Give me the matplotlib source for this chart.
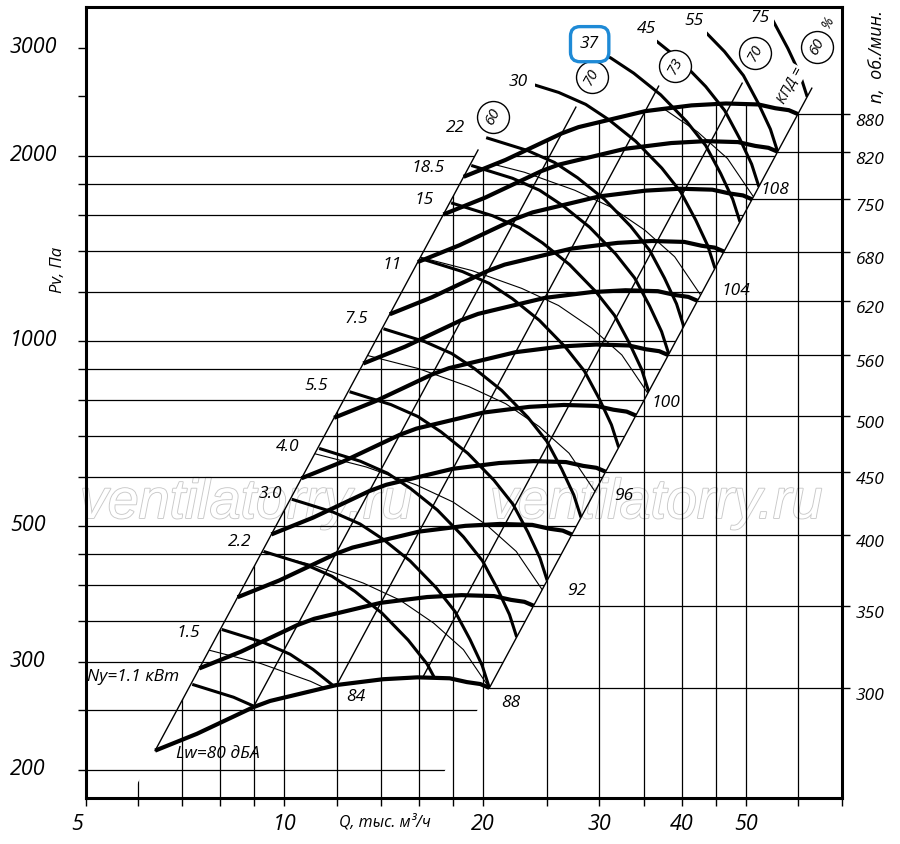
import numpy as np
import matplotlib
matplotlib.use('Agg')
import matplotlib.pyplot as plt
import matplotlib.patheffects as pe
from matplotlib.patches import Polygon
from matplotlib.ticker import FixedLocator, NullLocator
from matplotlib.transforms import Bbox, TransformedBbox, blended_transform_factory

plt.rcParams['font.family'] = ['Open Sans', 'DejaVu Sans']
plt.rcParams['font.style'] = 'italic'

# Q in thousand m3/h, Pv in Pa
# fan curve at n = 300 rpm, other speeds follow the fan laws
q_300 = [6.37, 7.37, 8.97, 9.51, 12.0, 14.1, 15.9, 17.8, 18.9, 19.8, 20.44]
p_300 = [215, 229, 253, 259, 275, 281, 283, 282, 278, 276, 272]
rpm = [300, 350, 400, 450, 500, 560, 620, 680, 750, 820, 880]

# motor power line that meets the right 60 % line at 300 rpm (3.0 kW)
q_pow = [10.26, 11.85, 13.02, 14.11, 15.50, 16.98, 18.14, 19.11, 19.93, 20.44]
p_pow = [552, 526, 503, 475, 438, 396, 362, 326, 296, 272]
power_labels = ['Ny=1.1 кВт', '1.5', '2.2', '3.0', '4.0', '5.5', '7.5', '11', '15',
                '18.5', '22', '30', '37', '45', '55', '75']
power_rpm_end = [212, 235, 272, 300, 330, 367, 413, 471, 523, 561, 591, 659, 719, 768, 820, 909]
power_q_from = [None] * 11 + [24.0, 30.9, 36.7, 43.7, 55.2]
power_label_pos = [(5.90, 283), (7.14, 334), (8.57, 470), (9.51, 563), (10.13, 671),
                   (11.17, 844), (12.84, 1085), (14.56, 1328), (16.27, 1695), (16.51, 1911),
                   (18.14, 2221), (22.6, 2638), (29.0, 3042), (35.3, 3219), (41.8, 3317),
                   (52.6, 3355)]

# noise line Lw = 88 dBA
q_lw = [9.24, 11.06, 13.17, 14.97, 16.82, 18.67, 20.44]
p_lw = [453, 431, 403, 378, 347, 314, 272]
lw_levels = [84, 88, 92, 96, 100, 104, 108]
lw_labels = ['Lw=80 дБА', '84', '88', '92', '96', '100', '104', '108']
lw_label_pos = [(7.93, 212), (12.84, 263), (22.0, 257), (27.7, 391), (32.7, 559),
                (37.9, 792), (48.3, 1205), (55.4, 1760)]

# efficiency lines (P ~ Q^2)
eta = ['60', '70', '73', '70', '60']
eta_q = [6.37, 8.97, 12.0, 16.2, 20.44]
eta_p = [215, 253, 275, 283, 272]
eta_p_top = [2045, 2402, 2599, 2628, 2579]
eta_label_pos = [(20.7, 2314), (29.2, 2689), (39.1, 2802), (51.7, 2938), (64.1, 3012)]

q_ticks = [5, 6, 7, 8, 9, 10, 12, 14, 16, 18, 20, 25, 30, 35, 40, 45, 50, 60, 70]
q_labeled = [10, 20, 30, 40, 50]
p_ticks = [200, 250, 300, 350, 400, 450, 500, 600, 700, 800, 900, 1000,
           1200, 1400, 1600, 1800, 2000, 2500, 3000]
p_labeled = [200, 300, 500, 1000, 2000, 3000]
q_grid = q_ticks[1:-1]
p_grid = p_ticks[:-2]

ylim = (180.2, 3493)
xlim = (5, 70)

fig = plt.figure(figsize=(9, 8.44), dpi=100)
ax = fig.add_axes([85.7 / 900, 1 - 797.7 / 844, 756.6 / 900, 790.4 / 844])
ax.set_xscale('log')
ax.set_yscale('log')
ax.set_xlim(*xlim)
ax.set_ylim(*ylim)
for s in ax.spines.values():
    s.set_linewidth(2.2)


def affine(q, p, r):
    return np.asarray(q, float) * r, np.asarray(p, float) * r ** 2


def poly(q, p):
    return Polygon(np.column_stack([q, p]), closed=True, transform=ax.transData)


kL = p_300[0] / q_300[0] ** 2
kR = p_300[-1] / q_300[-1] ** 2
q0, p0 = affine(q_300, p_300, 1)
qt, pt = affine(q_300, p_300, rpm[-1] / 300)
big = 1e5

region = poly(np.r_[q0, qt[::-1]], np.r_[p0, pt[::-1]])
above_low = poly(np.r_[q0, np.sqrt(big / kR), np.sqrt(big / kL)], np.r_[p0, big, big])
horiz_area = poly(np.r_[1, 1, np.sqrt(big / kL), qt, np.sqrt(100 / kR)],
                  np.r_[100, big, big, pt, 100])
vert_area = poly(np.r_[1, 1, qt, 1e3, 1e3], np.r_[1, kL, pt, pt[-1], 1])

# grid
for p in p_grid:
    ln, = ax.plot(xlim, [p, p], color='k', lw=0.9, zorder=1)
    ln.set_clip_path(horiz_area)
for q in q_grid:
    ln, = ax.plot([q, q], ylim, color='k', lw=0.9, zorder=1)
    ln.set_clip_path(vert_area)

# speed curves and level lines to the right axis
for n in rpm:
    q, p = affine(q_300, p_300, n / 300)
    ax.plot(q, p, color='k', lw=3.0, solid_capstyle='butt', zorder=4)
    ax.plot([q[-1], xlim[1]], [p[-1], p[-1]], color='k', lw=0.9, zorder=1)

# efficiency lines
for q, p, top in zip(eta_q, eta_p, eta_p_top):
    k = p / q ** 2
    ax.plot([q, np.sqrt(top / k)], [p, top], color='k', lw=1.0, zorder=2)

# noise lines
for lev in lw_levels:
    q, p = affine(q_lw, p_lw, 10 ** ((lev - 88) / 50))
    ln, = ax.plot(q, p, color='k', lw=0.8, zorder=2)
    ln.set_clip_path(region)

# power lines
for n_end, q_from in zip(power_rpm_end, power_q_from):
    q, p = affine(q_pow, p_pow, n_end / 300)
    ln, = ax.plot(q, p, color='k', lw=2.2, solid_capstyle='butt', zorder=3)
    ln.set_clip_path(above_low)
    if q_from:
        ln.set_clip_box(TransformedBbox(Bbox([[q_from, ylim[0]], [xlim[1], ylim[1]]]),
                                        ax.transData))

# angle of the P ~ Q^2 lines on screen
a = ax.transData.transform([(10, 100), (20, 400)])
ang = np.degrees(np.arctan2(a[1, 1] - a[0, 1], a[1, 0] - a[0, 0]))

fs = 12.5
for lab, (x, y) in zip(power_labels, power_label_pos):
    kw = {}
    if lab == '37':
        kw['bbox'] = dict(boxstyle='round,pad=0.55', fc='white', ec='#1e8ad6', lw=2.4)
    ax.text(x, y, lab, fontsize=fs, ha='center', va='center', zorder=7, **kw)
for lab, (x, y) in zip(lw_labels, lw_label_pos):
    ax.text(x, y, lab, fontsize=fs, ha='center', va='center', zorder=7)

for lab, (x, y) in zip(eta, eta_label_pos):
    ax.plot(x, y, 'o', ms=23, mfc='white', mec='k', mew=1.0, zorder=6, clip_on=False)
    ax.text(x, y, lab, fontsize=11, rotation=ang, rotation_mode='anchor',
            ha='center', va='center', zorder=7)
ax.text(58.4, 2609, 'КПД =', fontsize=10.5, rotation=ang, rotation_mode='anchor',
        ha='center', va='center', zorder=7,
        bbox=dict(fc='white', ec='none', pad=0.6))
ax.text(66.6, 3304, '%', fontsize=10, rotation=ang, rotation_mode='anchor',
        ha='center', va='center', zorder=7, clip_on=False)

# watermark
for x0 in (80, 490):
    ax.text(x0 / 900, 1 - 518 / 844, 'ventilatorry.ru', transform=fig.transFigure,
            fontsize=40, family='Liberation Sans', style='italic', color='white',
            ha='left', va='baseline', zorder=0.5, clip_on=False,
            path_effects=[pe.Stroke(linewidth=1.3, foreground='#c9c9c9'), pe.Normal()])

# axes ticks
ax.xaxis.set_major_locator(FixedLocator(q_ticks))
ax.xaxis.set_minor_locator(NullLocator())
ax.set_xticklabels([str(q) if q in q_labeled else '' for q in q_ticks], fontsize=15.5)
ax.yaxis.set_major_locator(FixedLocator(p_ticks))
ax.yaxis.set_minor_locator(NullLocator())
ax.tick_params(axis='both', direction='out', length=5.5, width=1.0)
ax.tick_params(axis='x', pad=6)
ax.tick_params(axis='y', labelleft=False)
ax.annotate('5', xy=(xlim[0], 0), xycoords=('data', 'axes fraction'),
            xytext=(-6.5, -11.5), textcoords='offset points',
            fontsize=15.5, ha='center', va='top', annotation_clip=False)
tr = blended_transform_factory(fig.transFigure, ax.transData)
for p in p_labeled:
    ax.text(10 / 900, p, str(p), transform=tr, fontsize=15.5, ha='left', va='center',
            clip_on=False)

ax2 = ax.twinx()
ax2.set_yscale('log')
ax2.set_ylim(*ylim)
p_end = [p_300[-1] * (n / 300) ** 2 for n in rpm]
ax2.set_yticks(p_end, labels=[str(n) for n in rpm], va='top', fontsize=12.5)
ax2.yaxis.set_minor_locator(NullLocator())
ax2.tick_params(axis='y', direction='out', length=5.5, width=1.0, pad=4)
for s in ax2.spines.values():
    s.set_visible(False)

fig.text(58 / 900, 1 - 270 / 844, 'Pv, Па', rotation=90, fontsize=12,
         ha='center', va='center')
fig.text(385 / 900, 1 - 822 / 844, 'Q, тыс. м³/ч', fontsize=11.5,
         ha='center', va='center')
fig.text(877 / 900, 1 - 57 / 844, 'n,  об./мин.', rotation=90, fontsize=13,
         ha='center', va='center')

fig.savefig('out.png', dpi=100)
